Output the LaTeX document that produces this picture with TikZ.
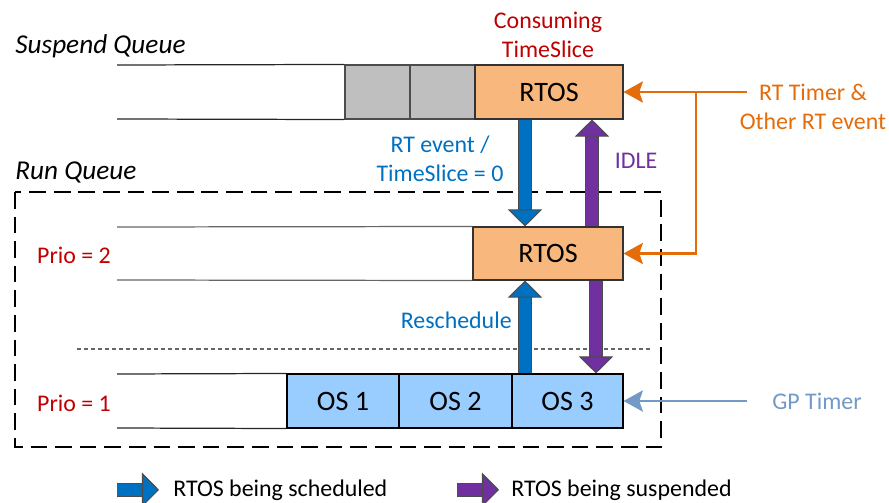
\documentclass[tikz,border=0pt]{standalone}
\usepackage{fontspec}
\setmainfont{Carlito}
\usetikzlibrary{arrows.meta,calc}
\definecolor{rtosfill}{HTML}{F8B77D}
\definecolor{osfill}{HTML}{99CCFF}
\definecolor{waitfill}{HTML}{BFBFBF}
\definecolor{schedblue}{HTML}{0070C0}
\definecolor{susppurple}{HTML}{7030A0}
\definecolor{priored}{HTML}{C00000}
\definecolor{rtorange}{HTML}{E46C0A}
\definecolor{gpblue}{HTML}{7399C6}

\begin{document}
\begin{tikzpicture}[x=.02cm,y=-.02cm,font=\fontsize{13.6}{16.5}\selectfont,
  txt/.style={inner sep=0pt},
  qtitle/.style={inner sep=0pt,anchor=base west,font=\fontsize{15.5}{18}\selectfont\itshape},
  box/.style={draw=black!80,line width=.6pt,minimum height=1.08cm,inner sep=0pt,font=\fontsize{16}{19}\selectfont},
  qline/.style={draw=black!85,line width=.7pt},
  blockarrow/.style={preaction={draw=black!70,line width=7.9pt,shorten >=9pt,arrows=-},
    draw=#1,line width=6.8pt,
    -{Triangle[length=9.7pt,width=19.4pt,color=black!70,fill=#1,line width=.6pt]}},
  feedline/.style={draw=#1,line width=1.5pt,-{Stealth[length=11pt,width=12pt,inset=2pt]}}]
\useasboundingbox (0,0) rectangle (889,503);

% run queue frame and priority separator
\draw[line width=1.2pt,dash pattern=on 9.5pt off 4.5pt] (15,192) rectangle (661,447);
\draw[black!60,line width=.6pt,dash pattern=on 2.3pt off 1.7pt] (77,349) -- (653,349);

% suspend queue
\node[qtitle] (suspq) at (15,54) {Suspend Queue};
\node[box,fill=waitfill,draw=black!70,minimum width=1.3cm] (wait1) at (377.5,92) {};
\node[box,fill=waitfill,draw=black!70,minimum width=1.3cm] (wait2) at (442.5,92) {};
\node[box,fill=rtosfill,minimum width=2.96cm] (rtosS) at (549,92) {RTOS};
\draw[qline] (117,65) -- (wait1.north west);
\draw[qline] (117,119) -- (wait1.south west);
\node[txt,text=priored,align=center] (consume) at (548,35) {Consuming\\TimeSlice};

% run queue
\node[qtitle] (runq) at (15,180) {Run Queue};
\node[txt,text=priored] (prio2) at (74,255) {Prio = 2};
\node[box,fill=rtosfill,minimum width=3cm,minimum height=1.06cm] (rtosR) at (548,253.5) {RTOS};
\draw[qline,draw=black!60] (117,227) -- (rtosR.north west);
\draw[qline,draw=black!60] (117,280) -- (rtosR.south west);

\node[txt,text=priored] (prio1) at (74,403) {Prio = 1};
\node[box,fill=osfill,draw=black,minimum width=2.24cm] (os1) at (343,401) {OS 1};
\node[box,fill=osfill,draw=black,minimum width=2.26cm] (os2) at (455.5,401) {OS 2};
\node[box,fill=osfill,draw=black,minimum width=2.22cm] (os3) at (567.5,401) {OS 3};
\draw[qline] (117,374) -- (os1.north west);
\draw[qline] (117,428) -- (os1.south west);

% transitions
\coordinate (schedx) at (525,0);
\coordinate (idlex) at (592,0);
\coordinate (suspx) at (596,0);
\draw[blockarrow=schedblue] (rtosS.south -| schedx) -- (rtosR.north -| schedx);
\draw[blockarrow=susppurple] (rtosR.north -| idlex) -- (rtosS.south -| idlex);
\draw[blockarrow=schedblue] (os3.north -| schedx) -- (rtosR.south -| schedx);
\draw[blockarrow=susppurple] (rtosR.south -| suspx) -- (os3.north -| suspx);
\node[txt,text=schedblue,align=center] (rtevent) at (440,159) {RT event /\\TimeSlice = 0};
\node[txt,text=susppurple] (idle) at (636,161) {IDLE};
\node[txt,text=schedblue,anchor=east] (resched) at (512,320) {Reschedule};

% timers
\node[txt,text=rtorange,align=center] (rttimer) at (813,107) {RT Timer \&\\Other RT event};
\coordinate (rtsrc) at (747,92);
\coordinate (rtfork) at (696,92);
\draw[feedline=rtorange] (rtsrc) -- (rtosS.east);
\draw[feedline=rtorange] (rtfork) |- (rtosR.east);
\node[txt,text=gpblue] (gptimer) at (817,401) {GP Timer};
\coordinate (gpsrc) at (747,401);
\draw[feedline=gpblue] (gpsrc) -- (os3.east);

% legend
\node[txt,anchor=base west] (legsched) at (173,496) {RTOS being scheduled};
\node[txt,anchor=base west] (legsusp) at (511,496) {RTOS being suspended};
\draw[blockarrow=schedblue] ($(legsched.west)+(-56,0)$) -- ($(legsched.west)+(-14,0)$);
\draw[blockarrow=susppurple] ($(legsusp.west)+(-54,0)$) -- ($(legsusp.west)+(-12,0)$);
\end{tikzpicture}
\end{document}
